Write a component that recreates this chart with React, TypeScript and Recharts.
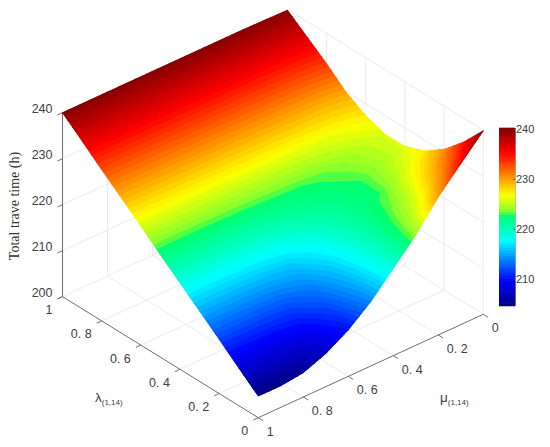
import { BarChart, Bar, Cell, ReferenceArea, ReferenceLine, Scatter, ScatterChart, XAxis, YAxis } from 'recharts';

const WIDTH = 550;
const HEIGHT = 447;

const lambdaValues = [0, 0.1, 0.2, 0.3, 0.4, 0.5, 0.6, 0.7, 0.8, 0.9, 1];
const muValues = [0, 0.1, 0.2, 0.3, 0.4, 0.5, 0.6, 0.7, 0.8, 0.9, 1];
// one row per lambda, one column per mu
const travelTime = [
  [239.9, 235.0, 230.0, 224.0, 219.0, 214.0, 210.1, 207.2, 205.3, 204.7, 204.7],
  [234.8, 230.6, 226.2, 222.9, 219.2, 215.0, 211.6, 209.3, 208.4, 208.3, 208.2],
  [230.6, 227.6, 224.2, 222.2, 219.6, 216.2, 213.5, 212.0, 211.8, 211.8, 211.8],
  [227.6, 225.6, 223.0, 222.0, 220.3, 218.0, 216.0, 215.5, 215.3, 215.3, 215.3],
  [226.0, 224.6, 223.0, 222.3, 221.5, 220.5, 219.3, 218.9, 218.8, 218.8, 218.8],
  [225.9, 225.0, 224.0, 223.2, 222.9, 222.7, 222.5, 222.4, 222.3, 222.3, 222.3],
  [227.4, 226.6, 226.2, 226.1, 226.0, 226.0, 225.9, 225.9, 225.9, 225.9, 225.9],
  [229.8, 229.5, 229.4, 229.4, 229.4, 229.4, 229.4, 229.4, 229.4, 229.4, 229.4],
  [233.4, 233.0, 232.9, 232.9, 232.9, 232.9, 232.9, 232.9, 232.9, 232.9, 232.9],
  [236.6, 236.5, 236.5, 236.5, 236.5, 236.5, 236.5, 236.5, 236.5, 236.5, 236.5],
  [239.8, 239.9, 240, 240, 240, 240, 240, 240, 240, 240, 240],
];

const lambdaTicks = [0, 0.2, 0.4, 0.6, 0.8, 1];
const muTicks = [0, 0.2, 0.4, 0.6, 0.8, 1];
const timeTicks = [200, 210, 220, 230, 240];
const colorbarTicks = [210, 220, 230, 240];
const COLOR_MIN = 204.6;
const COLOR_MAX = 240.3;
const LEVELS = 64;
const SUBDIV = 4; // how finely one grid cell is shaded

// colormap stops: position on the colorbar, r, g, b
const colorStops = [
  [0, 0, 0, 128],
  [0.144, 0, 0, 255],
  [0.37, 0, 255, 255],
  [0.52, 0, 255, 100],
  [0.525, 120, 255, 50],
  [0.623, 255, 255, 0],
  [0.86, 255, 0, 0],
  [1, 128, 0, 0],
];

function levelColor(i: number) {
  const f = (i + 0.5) / LEVELS;
  let k = 0;
  while (k < colorStops.length - 2 && f > colorStops[k + 1][0]) k++;
  const a = colorStops[k];
  const b = colorStops[k + 1];
  const t = (f - a[0]) / (b[0] - a[0]);
  const c = [1, 2, 3].map((j) => Math.round(a[j] + (b[j] - a[j]) * t));
  return `rgb(${c[0]},${c[1]},${c[2]})`;
}

// view of the 3D box, in chart units
function project(l: number, m: number, z: number) {
  return {
    x: 258.3 - 195.8 * l + 225 * (1 - m),
    y: 417.7 - 121 * l - 103.4 * (1 - m) - 4.6 * (z - 200),
  };
}

type V = { x: number; y: number; z: number };

// keep the part of a polygon with z on one side of a level
function clip(poly: V[], level: number, above: boolean) {
  const out: V[] = [];
  poly.forEach((p, i) => {
    const q = poly[(i + 1) % poly.length];
    const pIn = above ? p.z >= level : p.z <= level;
    const qIn = above ? q.z >= level : q.z <= level;
    if (pIn) out.push(p);
    if (pIn !== qIn) {
      const t = (level - p.z) / (q.z - p.z);
      out.push({ x: p.x + (q.x - p.x) * t, y: p.y + (q.y - p.y) * t, z: level });
    }
  });
  return out;
}

function addBands(tri: V[], paths: Map<number, string>) {
  const step = (COLOR_MAX - COLOR_MIN) / LEVELS;
  const zs = tri.map((p) => p.z);
  const first = Math.max(0, Math.floor((Math.min(...zs) - COLOR_MIN) / step));
  const last = Math.min(LEVELS - 1, Math.floor((Math.max(...zs) - COLOR_MIN) / step));
  for (let i = first; i <= last; i++) {
    let poly = tri;
    if (i > 0) poly = clip(poly, COLOR_MIN + i * step, true);
    if (i < LEVELS - 1 && poly.length) poly = clip(poly, COLOR_MIN + (i + 1) * step, false);
    if (poly.length > 2) {
      const d = 'M' + poly.map((p) => `${p.x.toFixed(2)} ${p.y.toFixed(2)}`).join('L') + 'Z';
      paths.set(i, (paths.get(i) || '') + d);
    }
  }
}

// cells from the back corner to the front one
const cells: any[] = [];
for (let i = lambdaValues.length - 2; i >= 0; i--) {
  for (let j = 0; j < muValues.length - 1; j++) {
    const paths = new Map<number, string>();
    const at = (s: number, t: number): V => {
      const z =
        travelTime[i][j] * (1 - s) * (1 - t) +
        travelTime[i + 1][j] * s * (1 - t) +
        travelTime[i][j + 1] * (1 - s) * t +
        travelTime[i + 1][j + 1] * s * t;
      const l = lambdaValues[i] + (lambdaValues[i + 1] - lambdaValues[i]) * s;
      const m = muValues[j] + (muValues[j + 1] - muValues[j]) * t;
      return { ...project(l, m, z), z };
    };
    for (let a = 0; a < SUBDIV; a++) {
      for (let b = 0; b < SUBDIV; b++) {
        const p00 = at(a / SUBDIV, b / SUBDIV);
        const p10 = at((a + 1) / SUBDIV, b / SUBDIV);
        const p11 = at((a + 1) / SUBDIV, (b + 1) / SUBDIV);
        const p01 = at(a / SUBDIV, (b + 1) / SUBDIV);
        addBands([p00, p10, p11], paths);
        addBands([p00, p11, p01], paths);
      }
    }
    const mid = at(0.5, 0.5);
    cells.push({ x: mid.x, y: mid.y, bands: [...paths.entries()].map(([k, d]) => ({ d, color: levelColor(k) })) });
  }
}

function CellUnder({ payload }: any) {
  return (
    <g>
      {payload.bands.map((b: any, i: number) => (
        <path key={i} d={b.d} fill={b.color} stroke={b.color} strokeWidth={0.8} />
      ))}
    </g>
  );
}

function CellTop({ payload }: any) {
  return (
    <g>
      {payload.bands.map((b: any, i: number) => (
        <path key={i} d={b.d} fill={b.color} />
      ))}
    </g>
  );
}

const FONT = '"Liberation Sans", Arial, sans-serif';
const tickText = (v: number) => (v === 0 || v === 1 ? String(v) : `0. ${Math.round(v * 10)}`);

const labels = [
  ...lambdaTicks.map((l) => ({ ...project(l, 1, 200), text: tickText(l), dx: -10, dy: 17.5, anchor: 'end' })),
  ...muTicks.map((m) => ({ ...project(0, m, 200), text: tickText(m), dx: 8.5, dy: 18, anchor: 'start' })),
  ...timeTicks.map((z) => ({ ...project(1, 1, z), text: String(z), dx: -10, dy: 0.5, anchor: 'end' })),
];

function TickLabel({ cx, cy, payload }: any) {
  return (
    <text x={cx + payload.dx} y={cy + payload.dy} textAnchor={payload.anchor} fontFamily={FONT} fontSize={12.5} fill="#404040">
      {payload.text}
    </text>
  );
}

const titles = [
  { x: 95, y: 402, main: 'λ', sub: '(1,14)' },
  { x: 440, y: 402, main: 'μ', sub: '(1,14)' },
];

function AxisTitle({ cx, cy, payload }: any) {
  return (
    <text x={cx} y={cy} fontFamily={FONT} fontSize={13.5} fill="#404040">
      {payload.main}
      <tspan fontSize={8} dy={3}>{payload.sub}</tspan>
    </text>
  );
}

const zTitle = [{ x: 19, y: 206, text: 'Total trave time (h)' }];

function ZTitle({ cx, cy, payload }: any) {
  return (
    <text x={cx} y={cy} transform={`rotate(-90 ${cx} ${cy})`} textAnchor="middle" fontFamily='"Liberation Serif", serif' fontSize={14} fill="#303030">
      {payload.text}
    </text>
  );
}

const seg = (a: { x: number; y: number }, b: { x: number; y: number }) => [
  { x: a.x, y: a.y },
  { x: b.x, y: b.y },
];

const gridSegments = [
  ...lambdaTicks.filter((l) => l > 0 && l < 1).flatMap((l) => [
    seg(project(l, 1, 200), project(l, 0, 200)),
    seg(project(l, 0, 200), project(l, 0, 240)),
  ]),
  ...muTicks.filter((m) => m > 0 && m < 1).flatMap((m) => [
    seg(project(0, m, 200), project(1, m, 200)),
    seg(project(1, m, 200), project(1, m, 240)),
  ]),
  ...timeTicks.flatMap((z) => [seg(project(1, 1, z), project(1, 0, z)), seg(project(1, 0, z), project(0, 0, z))]),
  seg(project(1, 0, 200), project(1, 0, 240)),
  seg(project(0, 0, 200), project(0, 0, 240)),
];

const axisSegments = [
  seg(project(1, 1, 200), project(1, 1, 240)),
  seg(project(1, 1, 200), project(0, 1, 200)),
  seg(project(0, 1, 200), project(0, 0, 200)),
  ...timeTicks.map((z) => seg(project(1, 1, z), project(1, 1.022, z))),
  ...lambdaTicks.map((l) => seg(project(l, 1, 200), project(l, 1.022, 200))),
  ...muTicks.map((m) => seg(project(0, m, 200), project(-0.025, m, 200))),
];

const colorBands = Array.from({ length: LEVELS }, (_, i) => ({
  z: COLOR_MIN + ((i + 0.5) * (COLOR_MAX - COLOR_MIN)) / LEVELS,
  full: 1,
}));

export default function App() {
  return (
    <div style={{ position: 'absolute', left: 0, top: 0, width: WIDTH, height: HEIGHT, background: '#fff' }}>
      <ScatterChart width={WIDTH} height={HEIGHT} margin={{ top: 0, right: 0, bottom: 0, left: 0 }}>
        <XAxis type="number" dataKey="x" domain={[0, WIDTH]} hide />
        <YAxis type="number" dataKey="y" domain={[0, HEIGHT]} reversed hide />
        {gridSegments.map((s, i) => (
          <ReferenceLine key={i} segment={s} stroke="#ebebeb" strokeWidth={1} />
        ))}
        <Scatter data={cells} shape={CellUnder} isAnimationActive={false} />
        <Scatter data={cells} shape={CellTop} isAnimationActive={false} />
        {axisSegments.map((s, i) => (
          <ReferenceLine key={`a${i}`} segment={s} stroke="#707070" strokeWidth={1} isFront />
        ))}
        <Scatter data={labels} shape={TickLabel} isAnimationActive={false} />
        <Scatter data={titles} shape={AxisTitle} isAnimationActive={false} />
        <Scatter data={zTitle} shape={ZTitle} isAnimationActive={false} />
      </ScatterChart>
      <div style={{ position: 'absolute', left: 499, top: 116 }}>
        <BarChart
          layout="vertical"
          width={50}
          height={202}
          data={colorBands}
          margin={{ top: 12, right: 0, bottom: 12, left: 0 }}
        >
          <XAxis type="number" domain={[0, 1]} hide />
          <YAxis
            type="number"
            dataKey="z"
            orientation="right"
            width={34}
            reversed
            domain={[COLOR_MIN, COLOR_MAX]}
            ticks={colorbarTicks}
            interval={0}
            axisLine={false}
            tickLine={false}
            tick={{ fontFamily: FONT, fontSize: 11, fill: '#404040', dx: -7 }}
            allowDataOverflow
          />
          <Bar dataKey="full" barSize={4} isAnimationActive={false}>
            {colorBands.map((_, i) => (
              <Cell key={i} fill={levelColor(i)} stroke={levelColor(i)} strokeWidth={1} />
            ))}
          </Bar>
          <ReferenceArea y1={COLOR_MIN} y2={COLOR_MAX} x1={0} x2={1} fill="none" stroke="#707070" isFront />
          {colorbarTicks.map((z) => (
            <ReferenceLine key={z} segment={[{ x: 0.9, y: z }, { x: 1, y: z }]} stroke="#505050" isFront />
          ))}
        </BarChart>
      </div>
    </div>
  );
}
